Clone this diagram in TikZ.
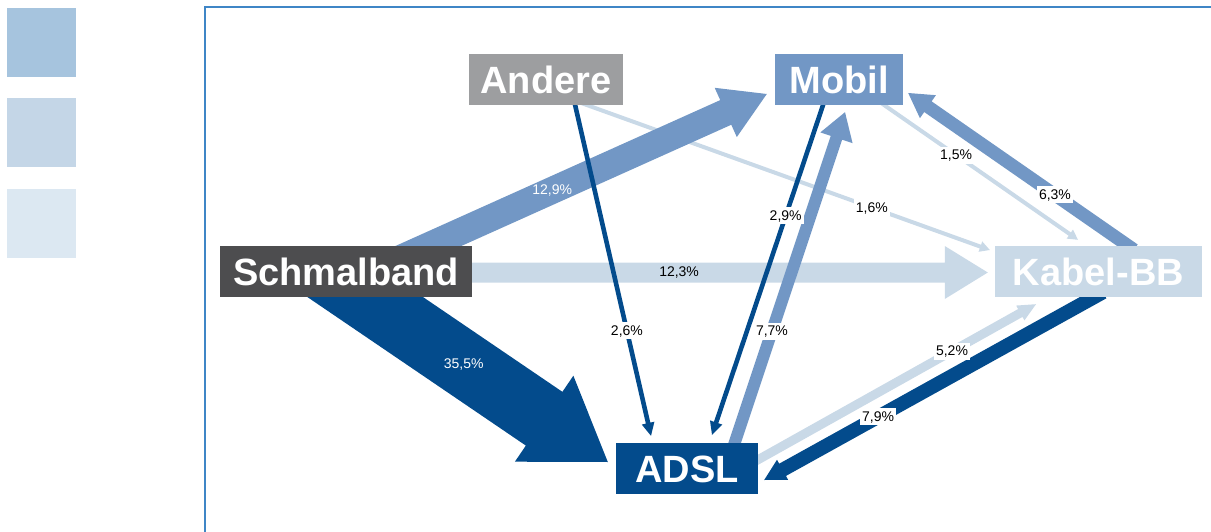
\documentclass[tikz,border=0pt]{standalone}
\usepackage{fontspec}
\setmainfont{Liberation Sans}
\usetikzlibrary{calc}
\pgfdeclarelayer{bg}
\pgfsetlayers{bg,main}

\definecolor{dblue}{HTML}{034B8C}
\definecolor{mblue}{HTML}{7297C5}
\definecolor{lblue}{HTML}{C9D9E7}
\definecolor{ngray}{HTML}{9D9EA0}
\definecolor{dgray}{HTML}{4D4D4F}
\definecolor{framecol}{HTML}{3F86C6}
\definecolor{legA}{HTML}{A6C4DE}
\definecolor{legB}{HTML}{C4D6E7}
\definecolor{legC}{HTML}{DCE8F2}

% #1 name, #2 colour, #3 start, #4 tip, #5 half shaft, #6 half head, #7 head length
\newcommand\flowarrow[7]{%
  \coordinate (#1-s) at (#3);
  \coordinate (#1-t) at (#4);
  \coordinate (#1-b) at ($(#1-t)!#7!(#1-s)$);
  \fill[#2] ($(#1-s)!#5!90:(#1-t)$) -- ($(#1-b)!#5!90:(#1-t)$) --
    ($(#1-b)!#6!90:(#1-t)$) -- (#1-t) -- ($(#1-b)!#6!-90:(#1-t)$) --
    ($(#1-b)!#5!-90:(#1-t)$) -- ($(#1-s)!#5!-90:(#1-t)$) -- cycle;
}

\tikzset{
  box/.style={inner sep=0pt, minimum height=51pt, text height=27.4pt,
    text depth=0pt, text=white,
    font=\fontsize{38}{40}\selectfont\bfseries},
  lbl/.style={fill=white, inner xsep=2pt, inner ysep=3pt, text height=10pt,
    text depth=1pt, text=black, font=\fontsize{14}{16}\selectfont},
  wlbl/.style={inner sep=0pt, text=white, font=\fontsize{14}{16}\selectfont},
  blbl/.style={inner sep=0pt, text=black, font=\fontsize{14}{16}\selectfont},
}

\begin{document}
\begin{tikzpicture}[x=1pt, y=-1pt]
\useasboundingbox (0,0) rectangle (1211,532);

% legend squares
\fill[legA] (7,8) rectangle (76,77);
\fill[legB] (7,98) rectangle (76,167);
\fill[legC] (7,189) rectangle (76,258);

% frame
\draw[framecol, line width=2pt] (205,533) -- (205,7) -- (1212,7);

% nodes
\node[box, fill=ngray, minimum width=154pt] (andere) at (546,79.5) {Andere};
\node[box, fill=mblue, minimum width=128pt] (mobil) at (839,79.5) {Mobil};
\node[box, fill=dgray, minimum width=252pt] (schmal) at (346,271.5) {Schmalband};
\node[box, fill=lblue, minimum width=207pt] (kabel) at (1098.5,271.5) {Kabel-BB};
\node[box, fill=dblue, minimum width=142pt] (adsl) at (687,468.5) {ADSL};

\begin{pgfonlayer}{bg}
  % light thin connectors
  \flowarrow{a16}{lblue}{$(andere.south)+(33,-3)$}{$(kabel.west)+(-5,-21.5)$}{2pt}{5.5pt}{10pt}
  \flowarrow{a15}{lblue}{$(mobil.south)+(41,-3)$}{$(kabel.north)+(-20.5,-6)$}{2pt}{5.5pt}{10pt}
  \flowarrow{a52}{lblue}{$(adsl.east)+(-6,-5.5)$}{$(kabel.south)+(-62.5,7)$}{4.5pt}{8.5pt}{18pt}
  % fat connectors from Schmalband
  \begin{scope}
    \clip (0,0) rectangle (1211,271.5);
    \flowarrow{a129}{mblue}{$(schmal.center)+(0,11.5)$}{$(mobil.west)+(-8,14.5)$}{13.5pt}{27pt}{45pt}
  \end{scope}
  \flowarrow{a123}{lblue}{$(schmal.center)+(0,1)$}{$(kabel.west)+(-7,1)$}{10pt}{26.5pt}{43pt}
  \begin{scope}
    \clip (0,271.5) rectangle (1211,532);
    \flowarrow{a355}{dblue}{$(schmal.center)+(-50,-21.5)$}{$(adsl.west)+(-8,-6.5)$}{32.5pt}{52pt}{77pt}
  \end{scope}
  % medium connectors
  \flowarrow{a77}{mblue}{$(adsl.north)+(46,5)$}{$(mobil.south)+(6,7)$}{6pt}{17pt}{27pt}
  \flowarrow{a63}{mblue}{$(kabel.north)+(35.5,4)$}{$(mobil.east)+(5,13.5)$}{6.5pt}{14pt}{24pt}
  % dark connectors
  \flowarrow{a26}{dblue}{$(andere.south)+(28,-5)$}{$(adsl.north)+(-36,-7)$}{2.3pt}{6.5pt}{13pt}
  \flowarrow{a29}{dblue}{$(mobil.south)+(-15,-3)$}{$(adsl.north)+(25,-8)$}{2.3pt}{6.5pt}{13pt}
  \flowarrow{a79}{dblue}{$(kabel.south)+(4.5,-5)$}{$(adsl.east)+(6,11.5)$}{7pt}{11.5pt}{21pt}
\end{pgfonlayer}

% labels
\node[wlbl] (l129) at ($(a129-s)!0.49!(a129-t)$) {12,9\%};
\node[blbl] (l123) at ($(a123-s)!0.519!(a123-t)$) {12,3\%};
\node[wlbl] (l355) at ($(a355-s)!0.538!(a355-t)$) {35,5\%};
\node[lbl] (l26) at ($(a26-s)!0.6875!(a26-t)$) {2,6\%};
\node[lbl] (l16) at ($(a16-s)!0.713!(a16-t)$) {1,6\%};
\node[lbl] (l29) at ($(a29-s)!0.342!(a29-t)$) {2,9\%};
\node[lbl] (l77) at ($(a77-s)!0.348!(a77-t)$) {7,7\%};
\node[lbl] (l15) at ($(a15-s)!0.384!(a15-t)$) {1,5\%};
\node[lbl] (l63) at ($(a63-s)!0.35!(a63-t)$) {6,3\%};
\node[lbl] (l52) at ($(a52-s)!0.704!(a52-t)$) {5,2\%};
\node[lbl] (l79) at ($(a79-s)!0.664!(a79-t)$) {7,9\%};
\end{tikzpicture}
\end{document}
